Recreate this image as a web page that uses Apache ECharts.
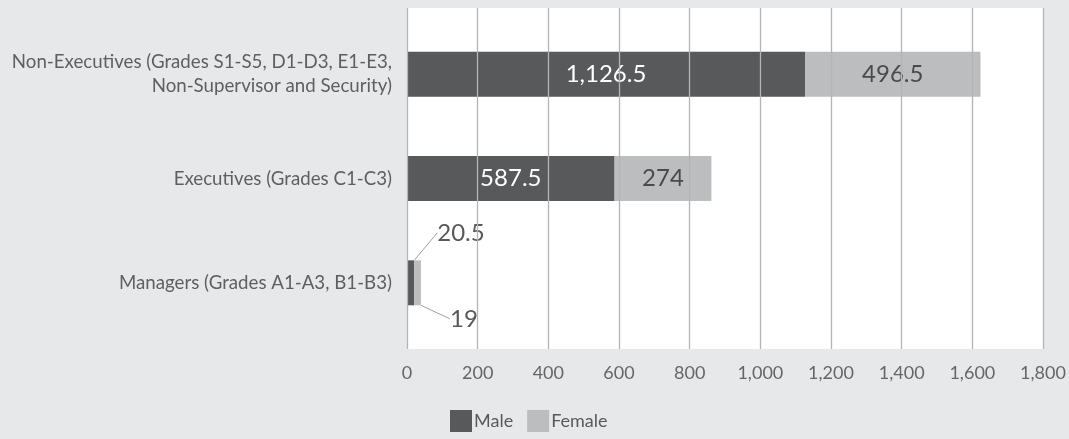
<!DOCTYPE html>
<html><head><meta charset="utf-8">
<script src="https://cdn.jsdelivr.net/npm/echarts@6/dist/echarts.min.js"></script>
<style>html,body{margin:0;padding:0;background:#e7e8ea;}#c{width:1069px;height:439px;}</style>
</head><body><div id="c"></div>
<script>
const categories = ['Managers (Grades A1-A3, B1-B3)', 'Executives (Grades C1-C3)', 'Non-Executives (Grades S1-S5, D1-D3, E1-E3,\nNon-Supervisor and Security)'];
const male = [20.5, 587.5, 1126.5];
const female = [19, 274, 496.5];
const xTicks = [0, 200, 400, 600, 800, 1000, 1200, 1400, 1600, 1800];
const seriesNames = ['Male', 'Female'];

const FONT = 'Lato';
const fmt = v => v.toLocaleString('en-US');
const chart = echarts.init(document.getElementById('c'));
const smallLayout = (dx, dy) => function (p) { return p.dataIndex === 0 ? {dx: dx, dy: dy} : {}; };

chart.setOption({
  backgroundColor: '#e7e8ea',
  animation: false,
  textStyle: {fontFamily: FONT},
  legend: {
    data: seriesNames, bottom: 2, left: 445, itemWidth: 22, itemHeight: 22, itemGap: 14,
    textStyle: {fontFamily: FONT, fontSize: 18, color: '#595959', padding: [0, 0, 0, -3]},
    icon: 'rect'
  },
  grid: [
    {left: 407, right: 26, top: 8, bottom: 90, show: true, backgroundColor: '#ffffff', borderWidth: 0},
    {left: 407, right: 26, top: 22, bottom: 104}
  ],
  xAxis: [
    {gridIndex: 0, type: 'value', min: xTicks[0], max: xTicks[xTicks.length - 1], interval: 200, z: 10,
     axisLine: {show: false}, axisTick: {show: false},
     splitLine: {show: true, lineStyle: {color: '#b4b4b4', width: 1.3}},
     axisLabel: {fontFamily: FONT, fontSize: 18, color: '#666', margin: 15, formatter: v => fmt(v)}},
    {gridIndex: 1, type: 'value', min: xTicks[0], max: xTicks[xTicks.length - 1], show: false}
  ],
  yAxis: [
    {gridIndex: 0, type: 'value', show: false},
    {gridIndex: 1, type: 'category', data: categories,
     axisLine: {show: false}, axisTick: {show: false},
     axisLabel: {fontFamily: FONT, fontSize: 18.7, color: '#5f5f5f', margin: 15, lineHeight: 24, align: 'right'}}
  ],
  series: [
    {name: 'Male', type: 'bar', stack: 's', xAxisIndex: 1, yAxisIndex: 1, barWidth: 45,
     itemStyle: {color: '#58595b'},
     data: male.map((v, i) => i === 0 ? {value: v, label: {position: 'right', color: '#595959'}, labelLine: {show: true, lineStyle: {color: '#a0a0a0', width: 1}}} : v),
     label: {show: true, position: 'inside', color: '#ffffff', fontFamily: FONT, fontSize: 24, formatter: p => fmt(p.value)},
     labelLayout: smallLayout(18, -50)
    },
    {name: 'Female', type: 'bar', stack: 's', xAxisIndex: 1, yAxisIndex: 1, barWidth: 45,
     itemStyle: {color: '#bcbdbf'},
     data: female.map((v, i) => i === 0 ? {value: v, label: {position: 'right', color: '#595959'}, labelLine: {show: true, lineStyle: {color: '#a0a0a0', width: 1}}} : v),
     label: {show: true, position: 'inside', color: '#4a4a4a', fontFamily: FONT, fontSize: 24, formatter: p => fmt(p.value)},
     labelLayout: smallLayout(24, 36)
    }
  ]
});
</script></body></html>
